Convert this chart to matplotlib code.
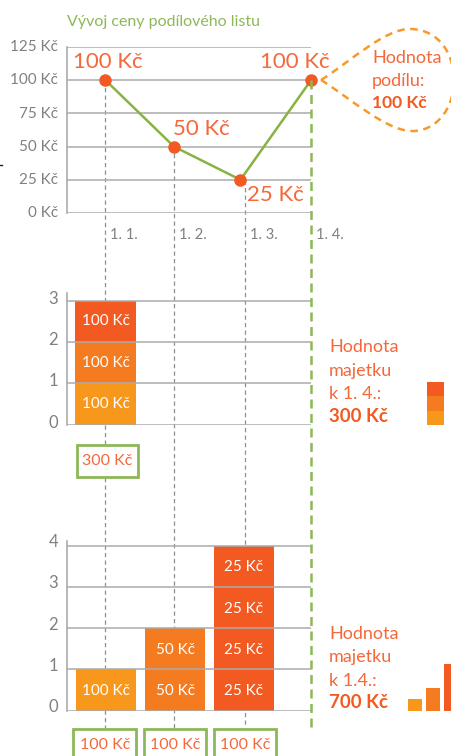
"""Recreate the three-panel share price / asset value explainer chart."""
import matplotlib
matplotlib.use("Agg")
import matplotlib.pyplot as plt
from matplotlib.patches import PathPatch, Rectangle
from matplotlib.path import Path
from matplotlib.transforms import ScaledTranslation

plt.rcParams["font.family"] = ["Lato", "DejaVu Sans"]

# ---------------------------------------------------------------------------
# Data
# ---------------------------------------------------------------------------
dates = ["1. 1.", "1. 2.", "1. 3.", "1. 4."]
date_pos = [1, 2, 3.03, 4]
price_pos = [1, 2, 2.97, 4]
price = [100, 50, 25, 100]
price_labels = ["100 Kč", "50 Kč", "25 Kč", "100 Kč"]
price_ticks = [0, 25, 50, 75, 100, 125]

units_ticks_mid = [0, 1, 2, 3]
units_mid = [1, 1, 1]
units_mid_labels = ["100 Kč", "100 Kč", "100 Kč"]

units_ticks_low = [0, 1, 2, 3, 4]
lump_pos = [1.01, 2.015, 3.02]
lump_units = [1, 2, 4]
lump_labels = ["100 Kč", "50 Kč", "25 Kč"]
lump_paid = ["100 Kč", "100 Kč", "100 Kč"]

# ---------------------------------------------------------------------------
# Style
# ---------------------------------------------------------------------------
W, H = 452, 756
RED = "#F25A21"
MID = "#F57B20"
LIGHT = "#F7981D"
TEXT = "#F4683A"
GREEN = "#8DB858"
LINE = "#86B342"
DASH = "#F79A2B"
GREY = "#808080"
GRID = "#ABABAB"
X_PX = lambda x: 105.5 + (x - 1) * 68.5
XLIM = ((67 - 105.5) / 68.5 + 1, 4)


def panel(top, bottom, ylim, ticks, ticklabels, fontsize, dy):
    ax = fig.add_axes([67 / W, 1 - bottom / H, (311 - 67) / W, (bottom - top) / H],
                      zorder=2)
    ax.patch.set_alpha(0)
    ax.set_xlim(*XLIM)
    ax.set_ylim(*ylim)
    for side in ("top", "right", "bottom"):
        ax.spines[side].set_visible(False)
    ax.spines["left"].set_color(GRID)
    ax.spines["left"].set_linewidth(1.2)
    ax.set_xticks([])
    ax.set_yticks(ticks)
    ax.set_yticklabels(ticklabels, fontsize=fontsize, color=GREY)
    ax.tick_params(axis="y", length=0, pad=6.5)
    shift = ScaledTranslation(0, dy / 72, fig.dpi_scale_trans)
    for lab in ax.get_yticklabels():
        lab.set_transform(lab.get_transform() + shift)
    ax.hlines(ticks, XLIM[0], XLIM[1], color=GRID, lw=1.1, zorder=3)
    return ax


def paid_box(x0, x1, y0, y1, label):
    front.add_patch(Rectangle((x0, y0), x1 - x0, y1 - y0, fc="white", ec=GREEN,
                              lw=2, zorder=3))
    front.text((x0 + x1) / 2, y0 + 16, label, color=TEXT, fontsize=11.5,
               ha="center", va="center", zorder=4)


def caption(x, rows, value, fontsize=13, bold_size=13.5):
    for y, s in rows:
        front.text(x, y, s, color=TEXT, fontsize=fontsize, va="center")
    front.text(x, value[0], value[1], color=RED, fontsize=bold_size,
               fontweight="bold", va="center")


fig = plt.figure(figsize=(W / 100, H / 100), dpi=100)

# pixel-space layers: guides behind the panels, annotations in front of them
back = fig.add_axes([0, 0, 1, 1], zorder=0)
front = fig.add_axes([0, 0, 1, 1], zorder=3)
for layer in (back, front):
    layer.set_xlim(0, W)
    layer.set_ylim(H, 0)
    layer.axis("off")
    layer.patch.set_alpha(0)

for pos, top in zip(date_pos[:3], [80, 146, 180]):
    back.plot([X_PX(pos)] * 2, [top, 730], color="#8F8F8F", lw=0.9,
              ls=(0, (3.4, 2.6)))
front.plot([311, 311], [80, 731], color=GREEN, lw=1.8, ls=(0, (3.6, 2.2)))

# ---------------------------------------------------------------------------
# Panel 1 — share price
# ---------------------------------------------------------------------------
ax1 = panel(47, 213, (0, 125), price_ticks, [f"{t} Kč" for t in price_ticks], 11, 1)
ax1.plot(price_pos, price, color=LINE, lw=1.8, zorder=4, clip_on=False)
ax1.plot(price_pos, price, "o", color=RED, ms=8, zorder=5, clip_on=False)
offsets = [(2, 18), (27, 18), (35, -15), (-16, 18)]
for x, y, s, off in zip(price_pos, price, price_labels, offsets):
    ax1.annotate(s, (x, y), xytext=off, textcoords="offset pixels", color=TEXT,
                 fontsize=16, ha="center", va="center", zorder=6)

front.text(67, 22, "Vývoj ceny podílového listu", color=GREEN, fontsize=11.5,
           ha="left", va="center")
for pos, s in zip(date_pos, dates):
    front.text(X_PX(pos) + 5, 235, s, color=GREY, fontsize=10.5, ha="left", va="center")

# teardrop callout, runs off the right edge
verts = [(321, 80), (350, 62), (385, 28), (411, 29), (440, 30), (454, 55), (454, 80),
         (454, 110), (435, 132), (411, 131), (385, 130), (350, 98), (321, 80)]
codes = [Path.MOVETO] + [Path.CURVE4] * 12
front.add_patch(PathPatch(Path(verts, codes), fc="none", ec=DASH, lw=1.8,
                          ls=(0, (3, 2.2)), clip_on=True))
caption(372, [(58, "Hodnota"), (81, "podílu:")], (103, "100 Kč"), bold_size=12.5)

# ---------------------------------------------------------------------------
# Panel 2 — one purchase
# ---------------------------------------------------------------------------
ax2 = panel(293, 424.7, (0, 3.19), units_ticks_mid, units_ticks_mid, 12, 2.5)
bottom = 0
for h, s, c in zip(units_mid, units_mid_labels, [LIGHT, MID, RED]):
    ax2.bar(1, h, width=61 / 68.5, bottom=bottom, color=c, zorder=2)
    ax2.text(1, bottom + h / 2, s, color="white", fontsize=11, ha="center",
             va="center", zorder=4)
    bottom += h
paid_box(77, 138, 445, 477, "300 Kč")
caption(329, [(347, "Hodnota"), (371, "majetku"), (394, "k 1. 4.:")], (416, "300 Kč"))

# ---------------------------------------------------------------------------
# Panel 3 — three purchases
# ---------------------------------------------------------------------------
ax3 = panel(541, 710.7, (0, 4.11), units_ticks_low, units_ticks_low, 12, 3.5)
for pos, n, s, c in zip(lump_pos, lump_units, lump_labels, [LIGHT, MID, RED]):
    for i in range(n):
        ax3.bar(pos, 1, width=60 / 68.5, bottom=i, color=c, zorder=2)
        ax3.text(pos, i + 0.5 - 0.03, s, color="white", fontsize=11, ha="center",
                 va="center", zorder=4)
for x0, x1, s in zip([73.5, 144, 214], [136, 206, 276.5], lump_paid):
    paid_box(x0, x1, 729, 770, s)
caption(329, [(634, "Hodnota"), (657, "majetku"), (681, "k 1.4.:")], (703, "700 Kč"))

# ---------------------------------------------------------------------------
# Miniature bars next to the captions
# ---------------------------------------------------------------------------
mini1 = fig.add_axes([427 / W, 1 - 425 / H, 17 / W, 43 / H], zorder=3)
bottom = 0
for h, c in zip(units_mid, [LIGHT, MID, RED]):
    mini1.bar(0, h, width=1, bottom=bottom, color=c)
    bottom += h
mini1.set_xlim(-0.5, 0.5)
mini1.set_ylim(0, 3)
mini1.axis("off")

mini2 = fig.add_axes([408 / W, 1 - 711 / H, 44 / W, 47 / H], zorder=3)
mini2.bar([0, 1, 2], lump_units, width=14 / 18, color=[LIGHT, MID, RED])
mini2.set_xlim(-7 / 18, 37 / 18)
mini2.set_ylim(0, 4)
mini2.axis("off")

# stray mark on the left edge of the source picture
front.plot([0, 2], [165, 165], color="#222222", lw=1)

fig.savefig("out.png", dpi=100)
